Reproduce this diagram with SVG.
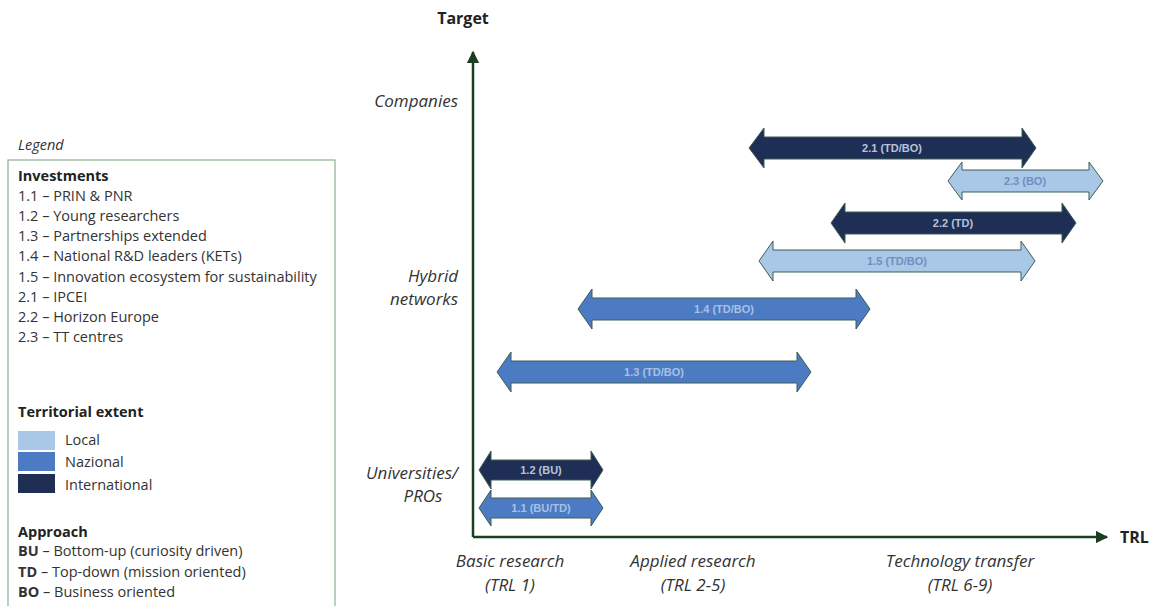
<svg xmlns="http://www.w3.org/2000/svg" width="1155" height="606" viewBox="0 0 1155 606">
<style>
.lg{font-family:"Open Sans","Liberation Sans",sans-serif;font-size:14.5px;fill:#333}
.lgb{font-family:"Open Sans","Liberation Sans",sans-serif;font-size:14.5px;font-weight:bold;fill:#222}
.ax{font-family:"Open Sans","Liberation Sans",sans-serif;font-size:17px;font-style:italic;fill:#333}
.axt{font-family:"Open Sans","Liberation Sans",sans-serif;font-size:16px;font-weight:bold;fill:#222}
.arr{stroke:#3d5e52;stroke-width:1}
.intl{fill:#1f2e54}
.naz{fill:#4c7bc3}
.loc{fill:#a9c7e7}
.al{font-family:"Liberation Sans",sans-serif;font-size:11px;font-weight:bold;text-anchor:middle;dominant-baseline:central}
.ald{fill:#b7c2da}
.alm{fill:#a8c0e6}
.all{fill:#6f8fbf}
</style>
<defs>
<marker id="ah" viewBox="0 0 10 10" refX="9" refY="5" markerWidth="5" markerHeight="5" orient="auto"><path d="M0,0 L10,5 L0,10 Z" fill="#1b3d20"/></marker>
</defs>
<g id="legend">
<text x="18" y="150" class="lg" font-style="italic" font-size="13.5px">Legend</text>
<rect x="8" y="160" width="327" height="460" fill="none" stroke="#8fae90" stroke-width="1.2"/>
<text x="18" y="181" class="lgb">Investments</text>
<text x="18" y="201" class="lg">1.1 – PRIN &amp; PNR</text>
<text x="18" y="221" class="lg">1.2 – Young researchers</text>
<text x="18" y="241" class="lg">1.3 – Partnerships extended</text>
<text x="18" y="261" class="lg">1.4 – National R&amp;D leaders (KETs)</text>
<text x="18" y="282" class="lg">1.5 – Innovation ecosystem for sustainability</text>
<text x="18" y="302" class="lg">2.1 – IPCEI</text>
<text x="18" y="322" class="lg">2.2 – Horizon Europe</text>
<text x="18" y="342" class="lg">2.3 – TT centres</text>
<text x="18" y="417" class="lgb">Territorial extent</text>
<rect x="18" y="431" width="37" height="19" class="loc"/>
<rect x="18" y="452" width="37" height="19" class="naz"/>
<rect x="18" y="474" width="37" height="19" class="intl"/>
<text x="65" y="445" class="lg">Local</text>
<text x="65" y="467" class="lg">Nazional</text>
<text x="65" y="490" class="lg">International</text>
<text x="18" y="537" class="lgb">Approach</text>
<text x="18" y="556" class="lg"><tspan font-weight="bold">BU</tspan> – Bottom-up (curiosity driven)</text>
<text x="18" y="577" class="lg"><tspan font-weight="bold">TD</tspan> – Top-down (mission oriented)</text>
<text x="18" y="597" class="lg"><tspan font-weight="bold">BO</tspan> – Business oriented</text>
</g>
<g id="axes">
<line x1="473" y1="537" x2="473" y2="52" stroke="#1b3d20" stroke-width="2.5" marker-end="url(#ah)"/>
<line x1="473" y1="537" x2="1107" y2="537" stroke="#1b3d20" stroke-width="2.5" marker-end="url(#ah)"/>
<text x="463" y="24" class="axt" text-anchor="middle">Target</text>
<text x="1120" y="543" class="axt">TRL</text>
<text x="458" y="107" class="ax" text-anchor="end">Companies</text>
<text x="458" y="282" class="ax" text-anchor="end">Hybrid</text>
<text x="458" y="305" class="ax" text-anchor="end">networks</text>
<text x="458" y="479" class="ax" text-anchor="end">Universities/</text>
<text x="423" y="502" class="ax" text-anchor="middle">PROs</text>
<text x="510" y="567" class="ax" text-anchor="middle">Basic research</text>
<text x="510" y="591" class="ax" text-anchor="middle">(TRL 1)</text>
<text x="693" y="567" class="ax" text-anchor="middle">Applied research</text>
<text x="693" y="591" class="ax" text-anchor="middle">(TRL 2-5)</text>
<text x="960" y="567" class="ax" text-anchor="middle">Technology transfer</text>
<text x="960" y="591" class="ax" text-anchor="middle">(TRL 6-9)</text>
</g>
<g id="arrow-2-1">
<path class="arr intl" d="M749,148 L764,128 L764,137 L1022,137 L1022,128 L1036,148 L1022,168 L1022,159 L764,159 L764,168 Z"/>
<text x="892" y="148" class="al ald">2.1 (TD/BO)</text>
</g>
<g id="arrow-2-3">
<path class="arr loc" d="M948,181 L962,162 L962,170 L1089,170 L1089,162 L1103,181 L1089,200 L1089,192 L962,192 L962,200 Z"/>
<text x="1025" y="181" class="al all">2.3 (BO)</text>
</g>
<g id="arrow-2-2">
<path class="arr intl" d="M831,223 L845,203 L845,212 L1062,212 L1062,203 L1076,223 L1062,243 L1062,234 L845,234 L845,243 Z"/>
<text x="953" y="223" class="al ald">2.2 (TD)</text>
</g>
<g id="arrow-1-5">
<path class="arr loc" d="M759,261 L773,241 L773,250 L1021,250 L1021,241 L1035,261 L1021,281 L1021,272 L773,272 L773,281 Z"/>
<text x="897" y="261" class="al all">1.5 (TD/BO)</text>
</g>
<g id="arrow-1-4">
<path class="arr naz" d="M578,309 L592,289 L592,298 L856,298 L856,289 L870,309 L856,329 L856,320 L592,320 L592,329 Z"/>
<text x="724" y="309" class="al alm">1.4 (TD/BO)</text>
</g>
<g id="arrow-1-3">
<path class="arr naz" d="M497,372 L511,352 L511,361 L797,361 L797,352 L811,372 L797,392 L797,383 L511,383 L511,392 Z"/>
<text x="654" y="372" class="al alm">1.3 (TD/BO)</text>
</g>
<g id="arrow-1-2">
<path class="arr intl" d="M479,470 L491,451 L491,460 L591,460 L591,451 L603,470 L591,489 L591,480 L491,480 L491,489 Z"/>
<text x="541" y="470" class="al ald">1.2 (BU)</text>
</g>
<g id="arrow-1-1">
<path class="arr naz" d="M479,508 L491,490 L491,498 L591,498 L591,490 L603,508 L591,526 L591,518 L491,518 L491,526 Z" fill="#5a88cc"/>
<text x="541" y="508" class="al alm">1.1 (BU/TD)</text>
</g>
</svg>
